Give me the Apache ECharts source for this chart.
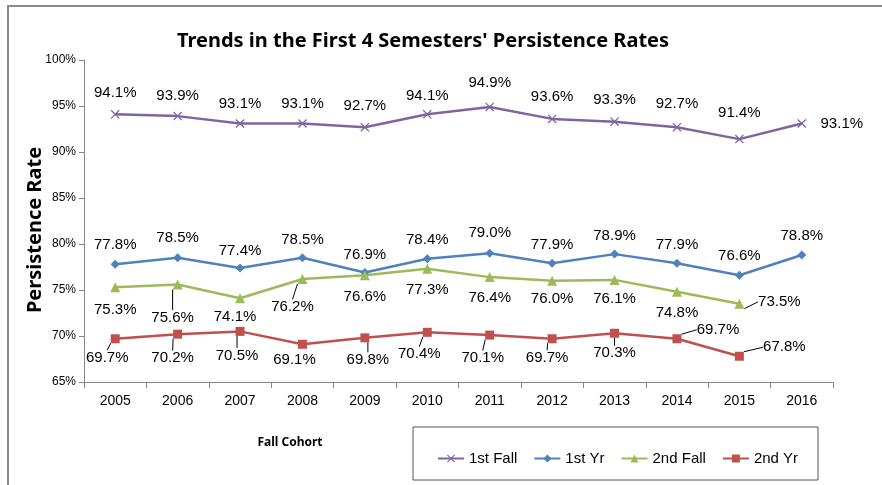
<!DOCTYPE html>
<html>
<head>
<meta charset="utf-8">
<script src="https://cdn.jsdelivr.net/npm/echarts@6/dist/echarts.min.js"></script>
<style>
  html, body { margin: 0; padding: 0; background: #fff; }
  #chart { width: 882px; height: 485px; }
</style>
</head>
<body>
<div id="chart"></div>
<script>
// 数据
const years = ['2005', '2006', '2007', '2008', '2009', '2010', '2011', '2012', '2013', '2014', '2015', '2016']
const firstFall = [94.1, 93.9, 93.1, 93.1, 92.7, 94.1, 94.9, 93.6, 93.3, 92.7, 91.4, 93.1]
const firstYr = [77.8, 78.5, 77.4, 78.5, 76.9, 78.4, 79.0, 77.9, 78.9, 77.9, 76.6, 78.8]
const secondFall = [75.3, 75.6, 74.1, 76.2, 76.6, 77.3, 76.4, 76.0, 76.1, 74.8, 73.5, null]
const secondYr = [69.7, 70.2, 70.5, 69.1, 69.8, 70.4, 70.1, 69.7, 70.3, 69.7, 67.8, null]

// label offsets [dx, dy, leader]
const offFirstFall = [[0,-21],[0,-20],[0,-20],[0,-20],[0,-21],[0,-18],[0,-24],[0,-22],[0,-22],[0,-23],[0,-26],[40,0]]
const offFirstYr = [[0,-19],[0,-20],[0,-17],[0,-18],[0,-18],[0,-19],[0,-20],[0,-18],[0,-18],[0,-18],[0,-19],[0,-19]]
const offSecondFall = [[0,23],[-5,33,1],[-5,19],[-10,28,1],[0,22],[0,21],[0,21],[0,18],[0,19],[0,21],[40,-2,1],[0,0]]
const offSecondYr = [[-8,19,1],[-5,24,1],[-3,24,1],[-8,16],[3,22,1],[-8,22,1],[-7,23,1],[-5,19,1],[0,20,1],[41,-9,1],[45,-9,1],[0,0]]

const FONT = 'Liberation Sans, Arial, sans-serif'
const crossPath = 'path://M0,1L1,0L10,9L9,10Z M9,0L10,1L1,10L0,9Z'

function buildData(values, offs) {
  return values.map((v, i) => ({
    value: v,
    labelLine: {show: !!(offs[i] && offs[i][2])}
  }))
}

function makeSeries(name, values, offs, color, symbol, size) {
  return {
    name: name,
    type: 'line',
    data: buildData(values, offs),
    symbol: symbol,
    symbolSize: size,
    lineStyle: {color: color, width: 2.5},
    itemStyle: {color: color},
    label: {
      show: true,
      position: 'inside',
      color: '#000',
      fontSize: 15,
      fontFamily: FONT,
      formatter: p => p.value.toFixed(1) + '%'
    },
    labelLine: {show: false, lineStyle: {color: '#000', width: 1}},
    labelLayout: p => {
      const o = offs[p.dataIndex] || [0, 0]
      return {dx: o[0], dy: o[1]}
    },
    emphasis: {disabled: true},
    animation: false
  }
}

const chart = echarts.init(document.getElementById('chart'))

chart.setOption({
  backgroundColor: '#fff',
  animation: false,
  title: {
    text: "Trends in the First 4 Semesters' Persistence Rates",
    left: 418,
    top: 26,
    textAlign: 'center',
    textStyle: {fontFamily: 'Noto Sans, sans-serif', fontWeight: 'bold', fontSize: 20, color: '#000'}
  },
  legend: {
    left: 432,
    top: 446,
    itemWidth: 26,
    itemHeight: 10,
    itemGap: 16,
    textStyle: {fontFamily: FONT, fontSize: 15, color: '#000'},
    data: ['1st Fall', '1st Yr', '2nd Fall', '2nd Yr']
  },
  grid: {left: 84, right: 49, top: 60, bottom: 103},
  xAxis: {
    type: 'category',
    data: years,
    boundaryGap: true,
    axisLine: {lineStyle: {color: '#868686', width: 1}},
    axisTick: {show: true, interval: 0, length: 6, lineStyle: {color: '#868686'}},
    axisLabel: {color: '#000', fontSize: 14, fontFamily: FONT, margin: 12}
  },
  yAxis: {
    type: 'value',
    min: 65,
    max: 100,
    interval: 5,
    axisLine: {show: true, lineStyle: {color: '#868686', width: 1}},
    axisTick: {show: true, length: 5, lineStyle: {color: '#868686'}},
    splitLine: {show: false},
    axisLabel: {color: '#000', fontSize: 12, fontFamily: FONT, margin: 8, formatter: '{value}%'}
  },
  graphic: [
    {
      type: 'rect',
      shape: {x: 8, y: 6, width: 900, height: 500},
      style: {fill: 'none', stroke: '#8c8c8c', lineWidth: 2},
      silent: true
    },
    {
      type: 'rect',
      shape: {x: 413, y: 427, width: 405, height: 53},
      style: {fill: 'none', stroke: '#555', lineWidth: 1},
      silent: true
    },
    {
      type: 'text',
      x: 35,
      y: 230,
      rotation: Math.PI / 2,
      style: {
        text: 'Persistence Rate',
        fill: '#000',
        font: 'bold 20px Noto Sans, sans-serif',
        align: 'center',
        verticalAlign: 'middle'
      }
    },
    {
      type: 'text',
      x: 290,
      y: 443,
      style: {
        text: 'Fall Cohort',
        fill: '#000',
        font: 'bold 12px Noto Sans, sans-serif',
        align: 'center',
        verticalAlign: 'middle'
      }
    }
  ],
  series: [
    makeSeries('1st Fall', firstFall, offFirstFall, '#8064A2', crossPath, 9),
    makeSeries('1st Yr', firstYr, offFirstYr, '#4F81BD', 'diamond', 9),
    makeSeries('2nd Fall', secondFall, offSecondFall, '#9BBB59', 'triangle', 10),
    makeSeries('2nd Yr', secondYr, offSecondYr, '#C0504D', 'rect', 9)
  ]
})
</script>
</body>
</html>
